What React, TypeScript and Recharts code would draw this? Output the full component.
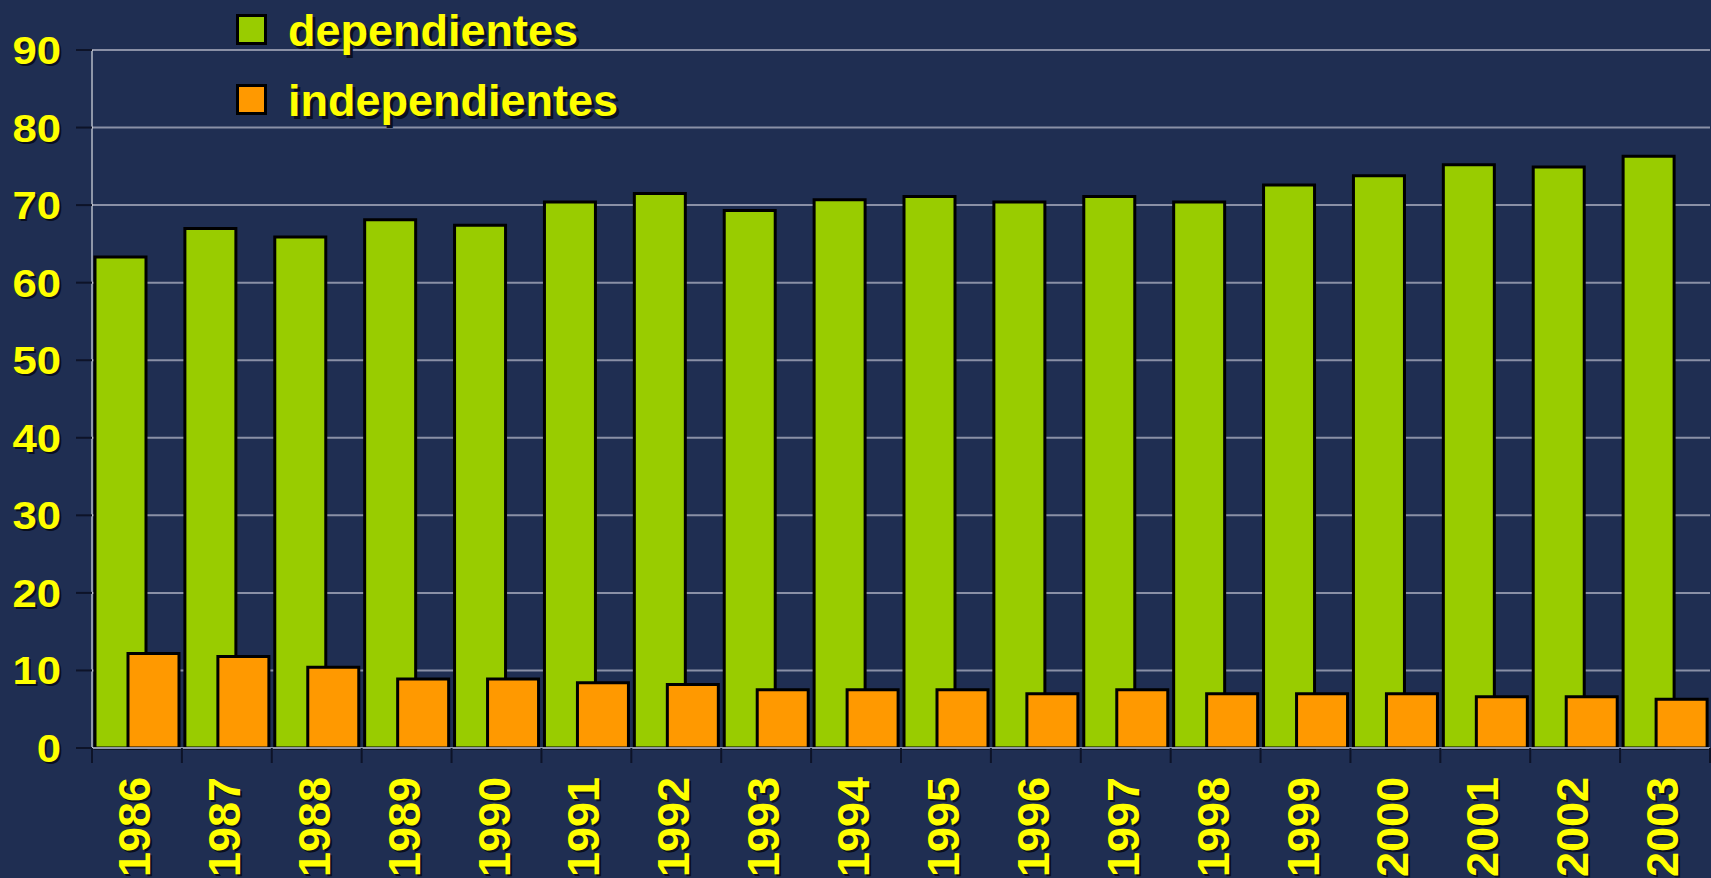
import React from 'react';
import {
  BarChart,
  Bar,
  XAxis,
  YAxis,
  CartesianGrid
} from 'recharts';

const years = ['1986', '1987', '1988', '1989', '1990', '1991', '1992', '1993', '1994', '1995', '1996', '1997', '1998', '1999', '2000', '2001', '2002', '2003'];
const dependientes = [63.3, 67.0, 65.9, 68.1, 67.4, 70.4, 71.5, 69.3, 70.7, 71.1, 70.4, 71.1, 70.4, 72.6, 73.8, 75.2, 74.9, 76.3];
const independientes = [12.2, 11.8, 10.4, 8.9, 8.9, 8.4, 8.2, 7.5, 7.5, 7.5, 7.0, 7.5, 7.0, 7.0, 7.0, 6.6, 6.6, 6.3];
const yTicks = [0, 10, 20, 30, 40, 50, 60, 70, 80, 90];

const seriesNames = ['dependientes', 'independientes'];
const seriesColors = ['#99CC00', '#FF9900'];

const data = years.map((year, i) => ({
  year,
  dependientes: dependientes[i],
  independientes: independientes[i]
}));

const W = 1711;
const H = 878;
const Y_AXIS_W = 92;
const X_AXIS_H = 130;
const MARGIN = { top: 50, right: 1, left: 0, bottom: 0 };
const BAND = (W - MARGIN.right - Y_AXIS_W) / years.length;

const BG = '#1F2E52';
const YELLOW = '#FFFF00';
const SHADOW = '#0A0F1E';
const FONT = '"Liberation Sans", Arial, sans-serif';

const YTick = (props: any) => {
  const { x, y, payload } = props;
  const label = String(payload.value);
  return (
    <g>
      <text
        transform={`translate(${x + 1},${y + 2}) scale(1.15,1)`}
        textAnchor="end"
        dy={14}
        fontSize={38}
        fontWeight="bold"
        fontFamily={FONT}
        fill={SHADOW}
      >
        {label}
      </text>
      <text
        transform={`translate(${x - 1},${y}) scale(1.15,1)`}
        textAnchor="end"
        dy={14}
        fontSize={38}
        fontWeight="bold"
        fontFamily={FONT}
        fill={YELLOW}
      >
        {label}
      </text>
    </g>
  );
};

const XTick = (props: any) => {
  const { x, y, payload, index } = props;
  const axisY = y - 8;
  return (
    <g>
      {index === 0 && (
        <line x1={x - BAND / 2} x2={x - BAND / 2} y1={axisY} y2={axisY + 15} stroke="#0D1328" strokeWidth={2} />
      )}
      <line x1={x + BAND / 2} x2={x + BAND / 2} y1={axisY} y2={axisY + 15} stroke="#0D1328" strokeWidth={2} />
      <text
        transform={`translate(${x + 15},${axisY + 31}) rotate(-90)`}
        textAnchor="end"
        fontSize={45}
        fontWeight="bold"
        fontFamily={FONT}
        fill={SHADOW}
      >
        {payload.value}
      </text>
      <text
        transform={`translate(${x + 13},${axisY + 29}) rotate(-90)`}
        textAnchor="end"
        fontSize={45}
        fontWeight="bold"
        fontFamily={FONT}
        fill={YELLOW}
      >
        {payload.value}
      </text>
    </g>
  );
};

const LegendBox = () => (
  <div style={{ position: 'absolute', left: 236, top: 14 }}>
    {seriesNames.map((name, i) => (
      <div key={name} style={{ display: 'flex', alignItems: 'center', height: 31, marginBottom: 39 }}>
        <div
          style={{
            width: 25,
            height: 25,
            background: seriesColors[i],
            border: '3px solid #000',
            marginRight: 21
          }}
        />
        <span
          style={{
            fontFamily: FONT,
            fontWeight: 'bold',
            fontSize: 45,
            color: YELLOW,
            textShadow: `3px 3px 0 ${SHADOW}`,
            lineHeight: '31px',
            whiteSpace: 'nowrap',
            position: 'relative',
            top: 1
          }}
        >
          {name}
        </span>
      </div>
    ))}
  </div>
);

export default function App() {
  return (
    <div style={{ position: 'absolute', left: 0, top: 0, width: W, height: H, background: BG, overflow: 'hidden' }}>
      <BarChart width={W} height={H} data={data} margin={MARGIN} barSize={51} barGap={-18}>
        <CartesianGrid vertical={false} stroke="#8A90A6" strokeWidth={2} />
        <XAxis
          dataKey="year"
          height={X_AXIS_H}
          axisLine={{ stroke: '#9096AA', strokeWidth: 2 }}
          tickLine={false}
          tick={<XTick />}
          interval={0}
        />
        <YAxis
          width={Y_AXIS_W}
          domain={[0, 90]}
          ticks={yTicks}
          interval={0}
          axisLine={{ stroke: '#FFFFFF', strokeWidth: 1 }}
          tickLine={{ stroke: '#0D1328', strokeWidth: 2 }}
          tickSize={16}
          tickMargin={14}
          tick={<YTick />}
        />
        <Bar dataKey="dependientes" fill={seriesColors[0]} stroke="#000" strokeWidth={3} isAnimationActive={false} />
        <Bar dataKey="independientes" fill={seriesColors[1]} stroke="#000" strokeWidth={3} isAnimationActive={false} />
      </BarChart>
      <LegendBox />
    </div>
  );
}
